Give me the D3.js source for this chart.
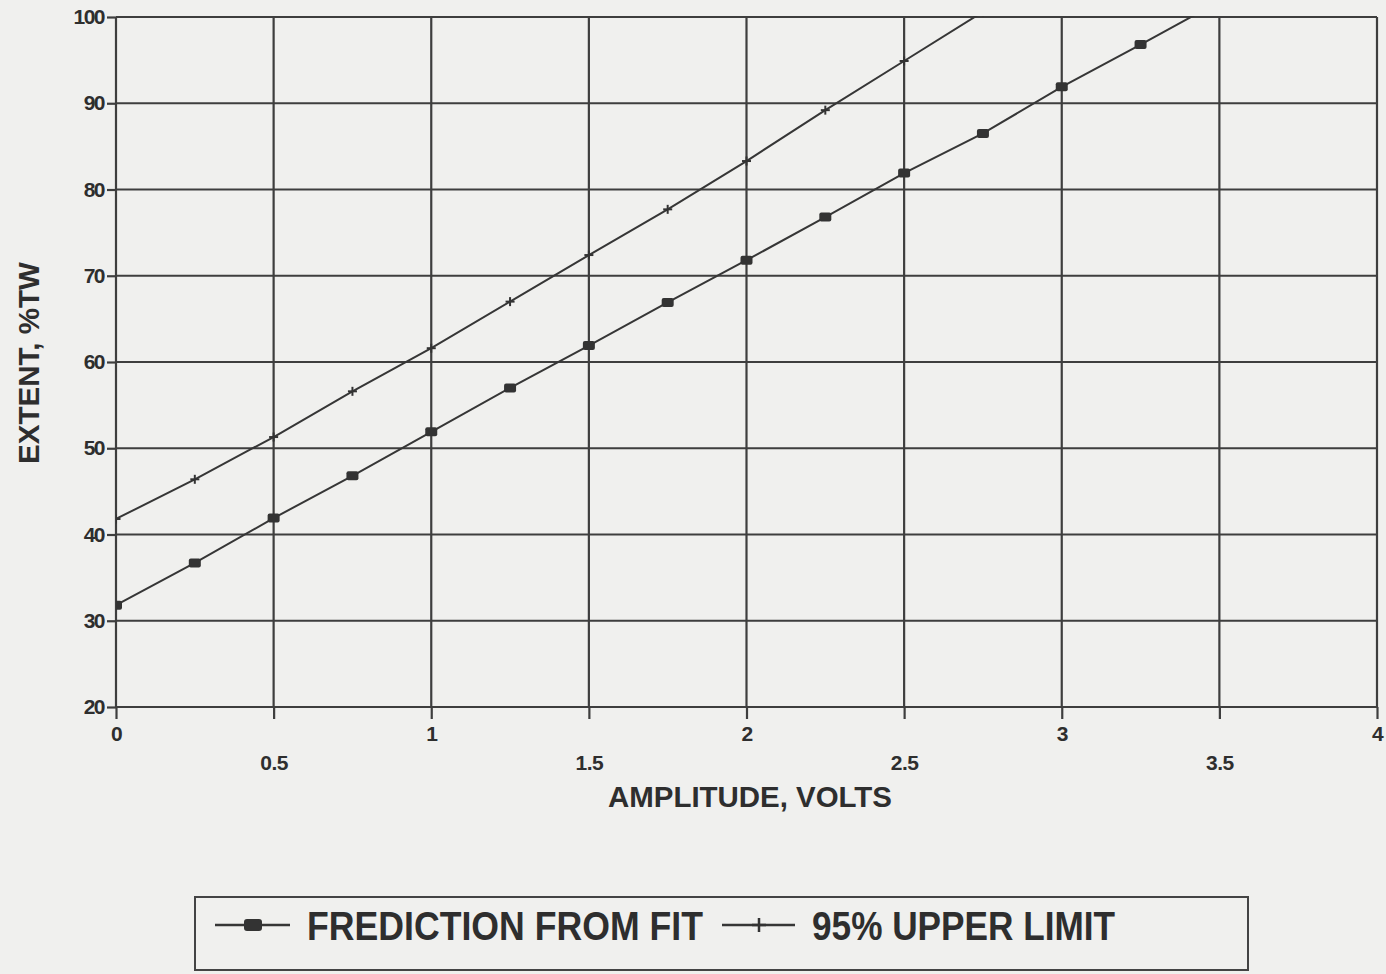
<!DOCTYPE html>
<html>
<head>
<meta charset="utf-8">
<script src="https://cdn.jsdelivr.net/npm/d3@7"></script>
<style>
  html, body { margin: 0; padding: 0; background: #f0f0ee; }
  svg { display: block; }
  text { font-family: "Liberation Sans", Arial, Helvetica, sans-serif; font-weight: bold; fill: #2e2e2e; }
</style>
</head>
<body>
<svg id="chart" width="1386" height="974"></svg>
<script>
// Amplitude (volts) and through-wall extent (%TW)
const amplitude = [0, 0.25, 0.5, 0.75, 1, 1.25, 1.5, 1.75, 2, 2.25, 2.5, 2.75, 3, 3.25, 3.5];
const prediction = [31.8, 36.7, 41.9, 46.8, 51.9, 57.0, 61.9, 66.9, 71.8, 76.8, 81.9, 86.5, 91.9, 96.8, 101.8];
const upperAmplitude = [0, 0.25, 0.5, 0.75, 1, 1.25, 1.5, 1.75, 2, 2.25, 2.5, 2.75];
const upperLimit = [41.8, 46.4, 51.3, 56.6, 61.6, 67.0, 72.4, 77.7, 83.3, 89.2, 94.9, 100.6];

const xTicks = [0, 0.5, 1, 1.5, 2, 2.5, 3, 3.5, 4];
const yTicks = [20, 30, 40, 50, 60, 70, 80, 90, 100];

const seriesNames = ["FREDICTION FROM FIT", "95% UPPER LIMIT"];
const xTitle = "AMPLITUDE, VOLTS";
const yTitle = "EXTENT, %TW";

const ink = "#363636";
const svg = d3.select("#chart");

const x = d3.scaleLinear().domain([0, 4]).range([116, 1377]);
const y = d3.scaleLinear().domain([20, 100]).range([707, 17]);

// clip the series to the plotting frame
svg.append("defs").append("clipPath").attr("id", "plotClip")
  .append("rect")
  .attr("x", x(0)).attr("y", y(100) - 1)
  .attr("width", x(4) - x(0)).attr("height", y(20) - y(100) + 1);

// grid
const grid = svg.append("g").attr("stroke", "#3e3e3e").attr("stroke-width", 2.2);
grid.selectAll("line.v").data(xTicks).join("line").attr("class", "v")
  .attr("x1", d => x(d)).attr("x2", d => x(d))
  .attr("y1", y(100)).attr("y2", y(20));
grid.selectAll("line.h").data(yTicks).join("line").attr("class", "h")
  .attr("x1", x(0)).attr("x2", x(4))
  .attr("y1", d => y(d)).attr("y2", d => y(d));

const tickFont = sel => sel
  .style("font-size", "21px")
  .style("font-family", "\"Liberation Sans\", Arial, sans-serif")
  .style("font-weight", "bold")
  .attr("fill", "#2e2e2e");

// x axis: integer labels high, half-volt labels staggered below
const xAxis = svg.append("g").attr("transform", `translate(0,${y(20)})`)
  .call(d3.axisBottom(x).tickValues(xTicks).tickSize(12).tickFormat(d => String(d)));
xAxis.select(".domain").remove();
xAxis.selectAll(".tick line").attr("stroke", "#3e3e3e").attr("stroke-width", 2.2);
xAxis.selectAll(".tick text")
  .attr("y", d => Number.isInteger(d) ? 19 : 48)
  .attr("dy", "0.71em")
  .attr("letter-spacing", "-0.5")
  .call(tickFont);

// y axis
const yAxis = svg.append("g").attr("transform", `translate(${x(0)},0)`)
  .call(d3.axisLeft(y).tickValues(yTicks).tickSize(9).tickPadding(3));
yAxis.select(".domain").remove();
yAxis.selectAll(".tick line").attr("stroke", "#3e3e3e").attr("stroke-width", 2.2);
yAxis.selectAll(".tick text")
  .attr("letter-spacing", "-1.5")
  .call(tickFont);

// axis titles
svg.append("text")
  .attr("x", 750).attr("y", 807)
  .attr("text-anchor", "middle")
  .attr("textLength", 284).attr("lengthAdjust", "spacingAndGlyphs")
  .style("font-size", "30px")
  .text(xTitle);

svg.append("text")
  .attr("transform", "translate(39,363) rotate(-90)")
  .attr("text-anchor", "middle")
  .attr("textLength", 202).attr("lengthAdjust", "spacingAndGlyphs")
  .style("font-size", "30px")
  .text(yTitle);

// series
const plot = svg.append("g").attr("clip-path", "url(#plotClip)");
const line = d3.line().x(d => x(d[0])).y(d => y(d[1]));

const predPts = amplitude.map((a, i) => [a, prediction[i]]);
const upperPts = upperAmplitude.map((a, i) => [a, upperLimit[i]]);

plot.append("path").datum(predPts)
  .attr("d", line).attr("fill", "none").attr("stroke", ink).attr("stroke-width", 2);
plot.append("path").datum(upperPts)
  .attr("d", line).attr("fill", "none").attr("stroke", ink).attr("stroke-width", 2);

// filled square markers
plot.selectAll("rect.pm").data(predPts).join("rect").attr("class", "pm")
  .attr("x", d => x(d[0]) - 6).attr("y", d => y(d[1]) - 4.5)
  .attr("width", 12).attr("height", 9).attr("rx", 2)
  .attr("fill", "#333");

// plus markers
const plus = (g, cx, cy, s) => {
  g.append("line").attr("x1", cx - s).attr("x2", cx + s).attr("y1", cy).attr("y2", cy);
  g.append("line").attr("x1", cx).attr("x2", cx).attr("y1", cy - s).attr("y2", cy + s);
};
const plusG = plot.append("g").attr("stroke", "#333").attr("stroke-width", 2);
upperPts.forEach(d => plus(plusG, x(d[0]), y(d[1]), 4.5));

// legend
const legend = svg.append("g");
legend.append("rect")
  .attr("x", 195).attr("y", 897).attr("width", 1053).attr("height", 73)
  .attr("fill", "none").attr("stroke", "#444").attr("stroke-width", 2);

legend.append("line").attr("x1", 215).attr("x2", 290).attr("y1", 925).attr("y2", 925)
  .attr("stroke", ink).attr("stroke-width", 2.5);
legend.append("rect").attr("x", 244).attr("y", 919).attr("width", 18).attr("height", 12).attr("rx", 3)
  .attr("fill", "#333");
legend.append("text").attr("x", 307).attr("y", 940)
  .attr("textLength", 396).attr("lengthAdjust", "spacingAndGlyphs")
  .style("font-size", "40px")
  .text(seriesNames[0]);

legend.append("line").attr("x1", 722).attr("x2", 795).attr("y1", 925).attr("y2", 925)
  .attr("stroke", ink).attr("stroke-width", 2.5);
const lp = legend.append("g").attr("stroke", "#333").attr("stroke-width", 2.5);
plus(lp, 759, 925, 7);
legend.append("text").attr("x", 812).attr("y", 940)
  .attr("textLength", 303).attr("lengthAdjust", "spacingAndGlyphs")
  .style("font-size", "40px")
  .text(seriesNames[1]);
</script>
</body>
</html>
